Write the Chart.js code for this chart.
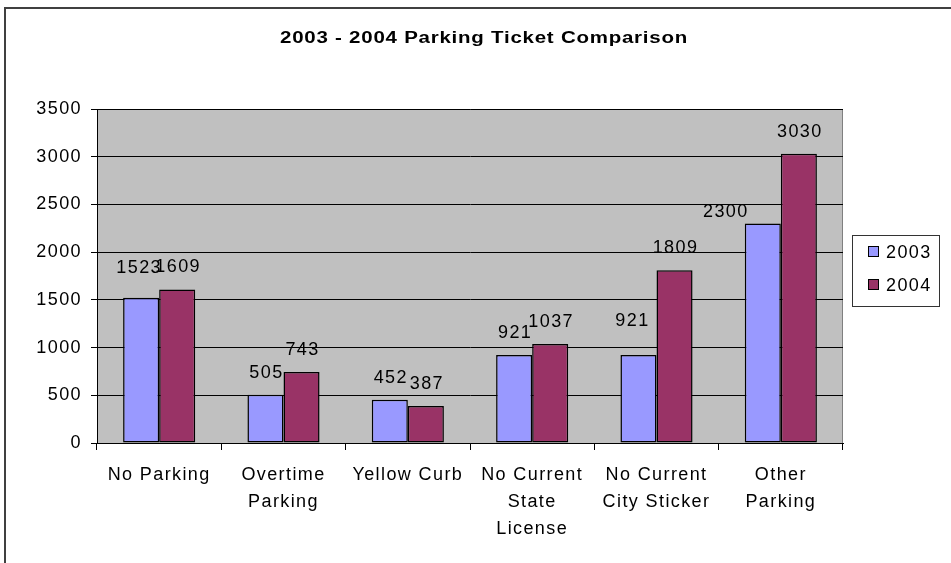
<!DOCTYPE html>
<html>
<head>
<meta charset="utf-8">
<script src="https://cdn.jsdelivr.net/npm/chart.js@4.4.1/dist/chart.umd.min.js"></script>
<style>
  body { margin: 0; background: #fff; }
  #wrap { width: 951px; height: 563px; position: relative; }
</style>
</head>
<body>
<div id="wrap"><canvas id="ticketChart"></canvas></div>
<script>
// Chart data
const categories = [
    'No Parking',
    ['Overtime', 'Parking'],
    'Yellow Curb',
    ['No Current', 'State', 'License'],
    ['No Current', 'City Sticker'],
    ['Other', 'Parking']
];
const tickets2003 = [1523, 505, 452, 921, 921, 2300];
const tickets2004 = [1609, 743, 387, 1037, 1809, 3030];
const yTicks = [0, 500, 1000, 1500, 2000, 2500, 3000, 3500];

const FONT = "'Liberation Sans', Arial, sans-serif";
const SIZE = 18;
const SPACING = '1.4px';

// hand-moved value labels (dataset-index: [dx, dy])
const labelNudges = { '0-0': [-3, -8], '0-4': [-7, -12], '0-5': [-38, 10] };

// Background, frame and plot area
const backdrop = {
    id: 'backdrop',
    beforeDraw(chart) {
        const { ctx, chartArea: a } = chart;
        ctx.save();
        ctx.fillStyle = '#fff';
        ctx.fillRect(0, 0, chart.width, chart.height);
        ctx.strokeStyle = '#404040';
        ctx.lineWidth = 2;
        ctx.strokeRect(5, 8, chart.width + 20, chart.height + 20);
        ctx.fillStyle = '#C0C0C0';
        ctx.fillRect(a.left, a.top, a.right - a.left, a.bottom - a.top);
        ctx.strokeStyle = '#808080';
        ctx.lineWidth = 1;
        ctx.strokeRect(a.left + 0.5, a.top + 0.5, a.right - a.left - 1, a.bottom - a.top);
        ctx.restore();
        ctx.letterSpacing = SPACING;
    }
};

// Title, value labels and legend
const extras = {
    id: 'extras',
    afterDatasetsDraw(chart) {
        const ctx = chart.ctx;
        ctx.save();
        ctx.letterSpacing = SPACING;
        ctx.font = SIZE + 'px ' + FONT;
        ctx.fillStyle = '#000';
        ctx.textAlign = 'center';
        ctx.textBaseline = 'alphabetic';
        chart.data.datasets.forEach((ds, i) => {
            chart.getDatasetMeta(i).data.forEach((bar, j) => {
                const n = labelNudges[i + '-' + j] || [0, 0];
                ctx.fillText(String(ds.data[j]), bar.x + 1 + n[0], bar.y - 17 + n[1]);
            });
        });
        ctx.restore();
    },
    afterDraw(chart) {
        const ctx = chart.ctx;
        ctx.save();
        // title, stretched a little like the original
        const title = '2003 - 2004 Parking Ticket Comparison';
        ctx.font = 'bold 16px ' + FONT;
        ctx.letterSpacing = '0.6px';
        const w = ctx.measureText(title).width;
        ctx.fillStyle = '#000';
        ctx.textAlign = 'left';
        ctx.textBaseline = 'alphabetic';
        ctx.translate(280, 43);
        ctx.scale(408 / w, 1);
        ctx.fillText(title, 0, 0);
        ctx.restore();

        // legend
        ctx.save();
        ctx.fillStyle = '#fff';
        ctx.fillRect(852, 235, 87, 71);
        ctx.strokeStyle = '#333';
        ctx.lineWidth = 1;
        ctx.strokeRect(852.5, 235.5, 87, 71);
        ctx.font = SIZE + 'px ' + FONT;
        ctx.letterSpacing = SPACING;
        ctx.textBaseline = 'middle';
        chart.data.datasets.forEach((ds, i) => {
            const y = 252 + i * 33;
            ctx.fillStyle = ds.backgroundColor;
            ctx.fillRect(868, y - 6, 11, 11);
            ctx.strokeStyle = '#000';
            ctx.strokeRect(868.5, y - 5.5, 10, 10);
            ctx.fillStyle = '#000';
            ctx.fillText(ds.label, 886, y + 1);
        });
        ctx.restore();
    }
};

const ctx = document.getElementById('ticketChart').getContext('2d');
const ticketChart = new Chart(ctx, {
    type: 'bar',
    data: {
        labels: categories,
        datasets: [{
            label: '2003',
            data: tickets2003,
            backgroundColor: '#9999FF',
            borderColor: '#000',
            borderWidth: 1.5,
            borderSkipped: false
        }, {
            label: '2004',
            data: tickets2004,
            backgroundColor: '#993366',
            borderColor: '#000',
            borderWidth: 1.5,
            borderSkipped: false
        }]
    },
    options: {
        responsive: true,
        maintainAspectRatio: false,
        animation: false,
        categoryPercentage: 0.58,
        barPercentage: 1,
        layout: { padding: { left: 0, right: 108, top: 109, bottom: 0 } },
        plugins: {
            legend: { display: false },
            title: { display: false },
            tooltip: { enabled: false }
        },
        scales: {
            x: {
                grid: { drawOnChartArea: false, drawTicks: true, tickLength: 7, color: '#000' },
                border: { display: true, color: '#000', width: 1 },
                ticks: {
                    color: '#000',
                    padding: 12,
                    maxRotation: 0,
                    autoSkip: false,
                    font: { family: FONT, size: SIZE, lineHeight: 1.5 }
                },
                afterFit(scale) { scale.height = 120; }
            },
            y: {
                min: 0,
                max: 3500,
                grid: { color: '#000', lineWidth: 1, tickLength: 6, drawTicks: true },
                border: { display: true, color: '#000', width: 1 },
                afterBuildTicks(scale) { scale.ticks = yTicks.map(v => ({ value: v })); },
                ticks: {
                    color: '#000',
                    padding: 9,
                    font: { family: FONT, size: SIZE },
                    callback: v => String(v)
                },
                afterFit(scale) { scale.width = 97; }
            }
        }
    },
    plugins: [backdrop, extras]
});
</script>
</body>
</html>
